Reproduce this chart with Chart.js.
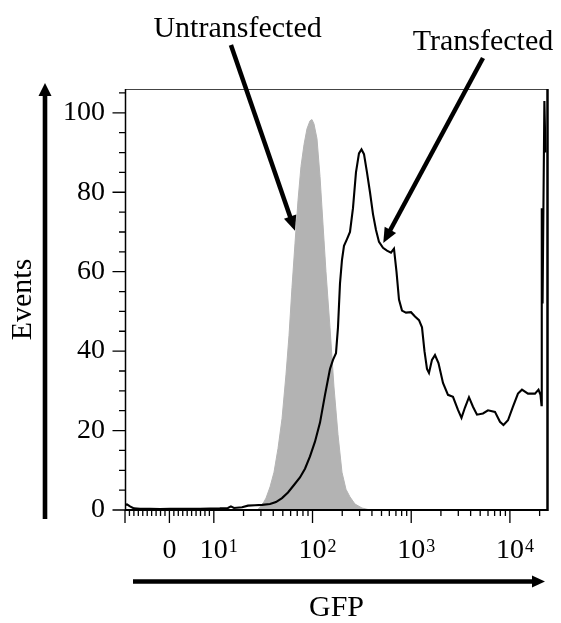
<!DOCTYPE html>
<html>
<head>
<meta charset="utf-8">
<script src="https://cdn.jsdelivr.net/npm/chart.js@4.4.1/dist/chart.umd.min.js"></script>
<style>
  html, body { margin: 0; padding: 0; background: #fff; }
</style>
</head>
<body>
<canvas id="c" width="561" height="623"></canvas>
<script>
// histograms: GFP value and number of events
const untransfectedGfp = [28.0, 30.8, 33.8, 37.1, 40.7, 44.7, 49.1, 53.8, 57.8, 61.9,
  66.4, 71.3, 76.4, 82.0, 87.9, 94.3, 98.8, 103.5, 111, 119.1,
  127.7, 136.9, 150.3, 165, 181.2, 198.9, 218.4, 239.7, 269.4, 317.1, 382.2];
const untransfectedEvents = [0.2, 1.2, 3.0, 5.8, 9.5, 15.5, 23, 34, 44, 56,
  67, 78, 86.5, 92, 96, 98, 98.3, 97.2, 93.5, 84,
  72, 60, 46, 31, 19, 9.5, 5.2, 3.3, 1.5, 0.5, 0];

const transfectedGfp = [-10, -9.55, -8.87, -7.97, -6.62, -4.37, -2.12, 0.14, 2.39, 4.64, 6.89, 9.14,
  11.5, 13.9, 14.9, 16.0, 19.3, 22.2, 26.1, 30.8, 37.1, 42.6,
  49.1, 56.4, 64.9, 74.6, 83.9, 94.3, 105.9, 119.1, 133.8, 150.3,
  161.2, 172.9, 181.2, 189.8, 198.9, 208.4, 223.5, 239.7, 257, 275.6,
  295.6, 313.4, 332.3, 356.3, 382.2, 409.9, 439.7, 471.6, 517.6, 568.2,
  623.7, 669, 709.3, 751.8, 806.4, 885.1, 994.7, 1092, 1199, 1286,
  1363, 1445, 1514, 1623, 1741, 1889, 2099, 2358, 2650, 2978,
  3231, 3505, 3848, 4225, 4639, 5337, 5996, 7058, 7931, 8605,
  9561, 10740, 12070, 13250, 15240, 17950, 19480, 20410, 20890, 21030,
  21430, 22350, 22930];
const transfectedEvents = [1.3, 1.4, 0.9, 0.4, 0.3, 0.3, 0.25, 0.3, 0.3, 0.3, 0.3, 0.35,
  0.4, 0.5, 0.9, 0.5, 0.7, 1.1, 1.2, 1.3, 1.5, 2.0,
  3.0, 4.4, 6.3, 8.2, 10.4, 13.5, 17.2, 22, 29, 35.5,
  37.8, 39.5, 46, 57, 63, 66.5, 68.2, 70, 76, 85,
  89.8, 90.8, 89.6, 85, 80, 74.5, 70.5, 67.5, 66, 65.3,
  64.8, 65.8, 60, 53, 50.2, 49.7, 49.8, 48.7, 47.8, 46,
  40, 35.5, 34.5, 37.8, 39, 37, 32, 29, 28.5, 25.2,
  23.2, 25.8, 28.4, 26, 24, 24.3, 25.1, 24.7, 22.2, 21.4,
  22.6, 26, 29.3, 30.3, 29.3, 29.3, 30.3, 29, 26.4, 76,
  52, 103, 90];

// ticks
const xMajorTicks = [-10, 0, 10, 100, 1000, 10000];
const xMinorTicks = [-9, -8, -7, -6, -5, -4, -3, -2, -1, 1, 2, 3, 4, 5, 6, 7, 8, 9,
  20, 30, 40, 50, 60, 70, 80, 90, 200, 300, 400, 500, 600, 700, 800, 900,
  2000, 3000, 4000, 5000, 6000, 7000, 8000, 9000, 20000];
const xLabelAt = [0, 10, 100, 1000, 10000];
const xLabelBase = ['0', '10', '10', '10', '10'];
const xLabelExp = ['', '1', '2', '3', '4'];
const yMajorTicks = [0, 20, 40, 60, 80, 100];
const yMinorTicks = [5, 10, 15, 25, 30, 35, 45, 50, 55, 65, 70, 75, 85, 90, 95, 105];

// annotations, in data units
const noteText = ['Untransfected', 'Transfected'];
const noteX = [17.4, 5337];
const noteY = [119, 115.8];
const arrowFrom = [[14.9, 117.1], [5337, 113.8]];
const arrowTo = [[66.4, 70.3], [521, 67.2]];

// biexponential-like display: linear between -10 and 10, log outside
const LIN = 0.45;
function biex(v) {
  const a = Math.abs(v);
  const t = a <= 10 ? LIN * a / 10 : LIN + Math.log10(a / 10);
  return v < 0 ? -t : t;
}
function biexInv(t) {
  const a = Math.abs(t);
  const v = a <= LIN ? a / LIN * 10 : 10 * Math.pow(10, a - LIN);
  return t < 0 ? -v : v;
}

class BiexScale extends Chart.Scale {
  static id = 'biex';
  static defaults = {};
  determineDataLimits() {
    this.min = this.options.min;
    this.max = this.options.max;
  }
  buildTicks() {
    return xMajorTicks.map(v => ({ value: v }));
  }
  configure() {
    super.configure();
    this._t0 = biex(this.min);
    this._tr = biex(this.max) - this._t0;
  }
  getPixelForValue(v) {
    return this.getPixelForDecimal((biex(v) - this._t0) / this._tr);
  }
  getValueForPixel(p) {
    return biexInv(this.getDecimalForPixel(p) * this._tr + this._t0);
  }
}
Chart.register(BiexScale);

function arrow(ctx, x1, y1, x2, y2, w, hl, hw) {
  const a = Math.atan2(y2 - y1, x2 - x1);
  const c = Math.cos(a), s = Math.sin(a);
  const bx = x2 - hl * c, by = y2 - hl * s;
  ctx.lineWidth = w;
  ctx.beginPath();
  ctx.moveTo(x1, y1);
  ctx.lineTo(bx + c, by + s);
  ctx.stroke();
  ctx.beginPath();
  ctx.moveTo(x2, y2);
  ctx.lineTo(bx + hw * s, by - hw * c);
  ctx.lineTo(bx - hw * s, by + hw * c);
  ctx.closePath();
  ctx.fill();
}

const decor = {
  id: 'decor',
  afterDraw(chart) {
    const { ctx, chartArea: a, scales: { x, y } } = chart;
    ctx.save();
    ctx.strokeStyle = '#000';
    ctx.fillStyle = '#000';

    // tick marks
    ctx.lineWidth = 1.3;
    ctx.beginPath();
    xMajorTicks.forEach(v => { const p = x.getPixelForValue(v); ctx.moveTo(p, a.bottom); ctx.lineTo(p, a.bottom + 13); });
    xMinorTicks.forEach(v => { const p = x.getPixelForValue(v); ctx.moveTo(p, a.bottom); ctx.lineTo(p, a.bottom + 6); });
    yMajorTicks.forEach(v => { const p = y.getPixelForValue(v); ctx.moveTo(a.left, p); ctx.lineTo(a.left - 12.5, p); });
    yMinorTicks.forEach(v => { const p = y.getPixelForValue(v); ctx.moveTo(a.left, p); ctx.lineTo(a.left - 6, p); });
    ctx.stroke();

    // frame
    ctx.lineWidth = 1;
    ctx.strokeStyle = '#444';
    ctx.beginPath(); ctx.moveTo(a.left, a.top + 0.5); ctx.lineTo(a.right, a.top + 0.5); ctx.stroke();
    ctx.strokeStyle = '#000';
    ctx.lineWidth = 1.5;
    ctx.beginPath(); ctx.moveTo(a.left + 0.5, a.top); ctx.lineTo(a.left + 0.5, a.bottom + 1); ctx.stroke();
    ctx.lineWidth = 2;
    ctx.beginPath(); ctx.moveTo(a.left, a.bottom); ctx.lineTo(a.right, a.bottom); ctx.stroke();
    ctx.lineWidth = 2.5;
    ctx.beginPath(); ctx.moveTo(a.right - 0.5, a.top); ctx.lineTo(a.right - 0.5, a.bottom + 1); ctx.stroke();

    // x tick labels with superscript exponents
    ctx.textBaseline = 'alphabetic';
    xLabelAt.forEach((v, i) => {
      const p = x.getPixelForValue(v);
      ctx.font = '28px "Liberation Serif"';
      ctx.textAlign = 'center';
      ctx.fillText(xLabelBase[i], p, 558);
      if (xLabelExp[i]) {
        const w = ctx.measureText(xLabelBase[i]).width;
        ctx.font = '18px "Liberation Serif"';
        ctx.textAlign = 'left';
        ctx.fillText(xLabelExp[i], p + w / 2 + 1, 552);
      }
    });

    // axis arrows
    arrow(ctx, 45, 519, 45, 83, 4.6, 13, 6.5);
    arrow(ctx, 133, 581.5, 545, 581.5, 4.6, 13, 6);

    // annotations
    ctx.font = '30px "Liberation Serif"';
    ctx.textAlign = 'center';
    noteText.forEach((t, i) => {
      ctx.fillText(t, x.getPixelForValue(noteX[i]), y.getPixelForValue(noteY[i]));
      arrow(ctx,
        x.getPixelForValue(arrowFrom[i][0]), y.getPixelForValue(arrowFrom[i][1]),
        x.getPixelForValue(arrowTo[i][0]), y.getPixelForValue(arrowTo[i][1]),
        4.5, 15, 6.5);
    });
    ctx.restore();
  }
};

Chart.defaults.font.family = '"Liberation Serif", "Times New Roman", serif';
Chart.defaults.color = '#000';

new Chart(document.getElementById('c'), {
  type: 'line',
  data: {
    datasets: [
      {
        label: 'Transfected',
        data: transfectedGfp.map((g, i) => ({ x: g, y: transfectedEvents[i] })),
        borderColor: '#000',
        borderWidth: 2.1,
        pointRadius: 0,
        tension: 0,
        fill: false,
        order: 1
      },
      {
        label: 'Untransfected',
        data: untransfectedGfp.map((g, i) => ({ x: g, y: untransfectedEvents[i] })),
        borderColor: '#b3b3b3',
        backgroundColor: '#b3b3b3',
        borderWidth: 1,
        pointRadius: 0,
        tension: 0,
        fill: 'origin',
        order: 2
      }
    ]
  },
  options: {
    responsive: false,
    animation: false,
    layout: { padding: { left: 0, top: 89, right: 13, bottom: 0 } },
    plugins: { legend: { display: false }, tooltip: { enabled: false } },
    scales: {
      x: {
        type: 'biex',
        min: -10,
        max: 24320,
        grid: { display: false, drawTicks: false },
        border: { display: false },
        ticks: { display: false },
        title: { display: true, text: 'GFP', font: { size: 30, lineHeight: 1 }, padding: 0 },
        afterFit: s => { s.height = 113; }
      },
      y: {
        type: 'linear',
        min: 0,
        max: 106,
        grid: { display: false, drawTicks: false },
        border: { display: false },
        ticks: { font: { size: 28 }, padding: 20 },
        afterBuildTicks: s => { s.ticks = yMajorTicks.map(v => ({ value: v })); },
        title: { display: true, text: 'Events', font: { size: 30, lineHeight: 1 }, padding: { top: 8, bottom: 0 } },
        afterFit: s => { s.width = 125; }
      }
    }
  },
  plugins: [decor]
});
</script>
</body>
</html>
